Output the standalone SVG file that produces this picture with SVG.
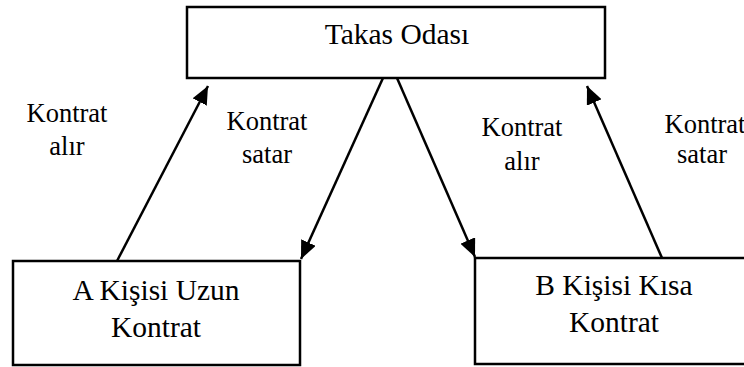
<svg xmlns="http://www.w3.org/2000/svg" width="744" height="367" viewBox="0 0 744 367">
<style>
.box{fill:#fff;stroke:#000;stroke-width:2.5}
text{font-family:'Liberation Serif','Times New Roman','DejaVu Serif',Times,serif;fill:#000;text-anchor:middle}
.t{font-size:29.5px}
.l{font-size:26.5px}
.c{stroke:#000;stroke-width:2.5;fill:none;marker-end:url(#ah)}
</style>
<defs>
<marker id="ah" markerUnits="userSpaceOnUse" markerWidth="20" markerHeight="16" refX="18" refY="8" orient="auto">
<path d="M0,0 L18,8 L0,16 Z" fill="#000"/>
</marker>
</defs>
<rect width="744" height="367" fill="#fff"/>
<g id="takas">
<rect class="box" x="187" y="7" width="418" height="71"/>
<text class="t" x="397" y="44">Takas Odası</text>
</g>
<g id="a-kisisi">
<rect class="box" x="13" y="261" width="287" height="104"/>
<text class="t" x="156" y="300">A Kişisi Uzun</text>
<text class="t" x="156" y="337">Kontrat</text>
</g>
<g id="b-kisisi">
<rect class="box" x="475" y="258" width="290" height="106"/>
<text class="t" x="614" y="295">B Kişisi Kısa</text>
<text class="t" x="614" y="332">Kontrat</text>
</g>
<g id="connectors">
<line class="c" x1="117" y1="261" x2="208" y2="86"/>
<line class="c" x1="383" y1="78" x2="301" y2="259"/>
<line class="c" x1="397" y1="78" x2="475" y2="257"/>
<line class="c" x1="662" y1="258" x2="587" y2="86"/>
</g>
<g id="labels">
<text class="l" x="67" y="122">Kontrat</text>
<text class="l" x="67" y="155">alır</text>
<text class="l" x="267" y="130">Kontrat</text>
<text class="l" x="267" y="163">satar</text>
<text class="l" x="522" y="136">Kontrat</text>
<text class="l" x="522" y="170">alır</text>
<text class="l" x="705" y="133">Kontrat</text>
<text class="l" x="702" y="163">satar</text>
</g>
</svg>
